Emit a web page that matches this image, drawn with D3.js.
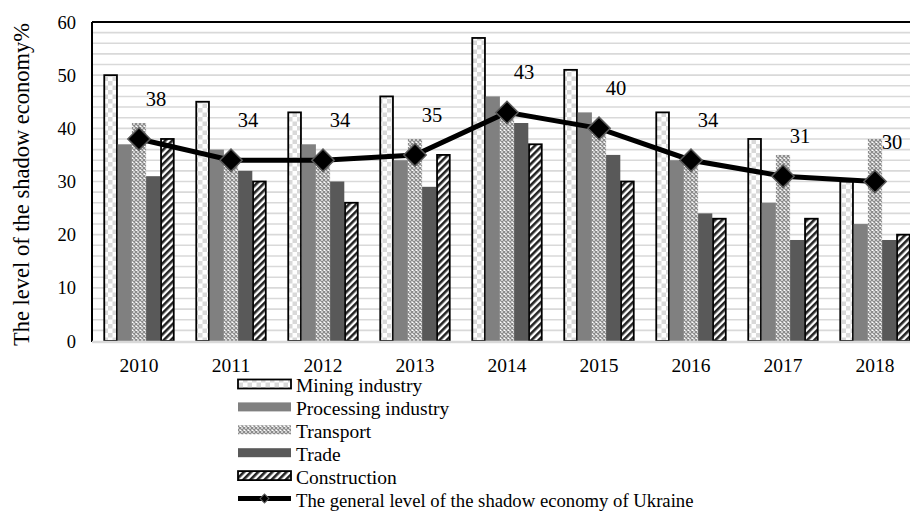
<!DOCTYPE html>
<html>
<head>
<meta charset="utf-8">
<script src="https://cdn.jsdelivr.net/npm/d3@7"></script>
<style>
  body { margin: 0; background: #fff; }
  svg { display: block; font-family: "Liberation Serif", "Times New Roman", serif; }
</style>
</head>
<body>
<svg id="svg" width="910" height="513"></svg>
<script>
// data
let years = ["2010", "2011", "2012", "2013", "2014", "2015", "2016", "2017", "2018"];
let seriesNames = ["Mining industry", "Processing industry", "Transport", "Trade", "Construction"];
let mining     = [50, 45, 43, 46, 57, 51, 43, 38, 30];
let processing = [37, 36, 37, 34, 46, 43, 34, 26, 22];
let transport  = [41, 33, 33, 38, 42, 39, 33, 35, 38];
let trade      = [31, 32, 30, 29, 41, 35, 24, 19, 19];
let construction = [38, 30, 26, 35, 37, 30, 23, 23, 20];
let general    = [38, 34, 34, 35, 43, 40, 34, 31, 30];
let lineName = "The general level of the shadow economy of Ukraine";
let yTicks = [0, 10, 20, 30, 40, 50, 60];

let seriesValues = [mining, processing, transport, trade, construction];
let fills = ["url(#checker)", "#808080", "url(#cross)", "#595959", "url(#stripes)"];
let strokes = ["#000", "none", "none", "none", "#000"];

let margin = { top: 22, left: 92, bottom: 341 };
let svg = d3.select("#svg");

// patterns
let defs = svg.append("defs");
let p1 = defs.append("pattern").attr("id", "checker").attr("patternUnits", "userSpaceOnUse")
    .attr("width", 9).attr("height", 9);
p1.append("rect").attr("width", 9).attr("height", 9).attr("fill", "#fff");
p1.append("rect").attr("x", 0).attr("y", 0).attr("width", 4.5).attr("height", 4.5).attr("fill", "#d9d9d9");
p1.append("rect").attr("x", 4.5).attr("y", 4.5).attr("width", 4.5).attr("height", 4.5).attr("fill", "#d9d9d9");

let p2 = defs.append("pattern").attr("id", "cross").attr("patternUnits", "userSpaceOnUse")
    .attr("width", 4).attr("height", 4);
p2.append("rect").attr("width", 4).attr("height", 4).attr("fill", "#fff");
p2.append("path").attr("d", "M0,0L4,4M4,0L0,4").attr("stroke", "#8c8c8c").attr("stroke-width", 1.3);

let p3 = defs.append("pattern").attr("id", "stripes").attr("patternUnits", "userSpaceOnUse")
    .attr("width", 5).attr("height", 5).attr("patternTransform", "rotate(45)");
p3.append("rect").attr("width", 5).attr("height", 5).attr("fill", "#fff");
p3.append("rect").attr("width", 2.6).attr("height", 5).attr("fill", "#222");

// scales
let xScale = d3.scaleBand().domain(years).range([93, 921]).paddingInner(0).paddingOuter(0);
let x1 = d3.scaleBand().domain(seriesNames).range([0, xScale.bandwidth()]).paddingInner(0).paddingOuter(0.74);
let yScale = d3.scaleLinear().domain([0, 60]).range([margin.bottom, margin.top]);

// gridlines every 2
svg.append("g").selectAll("line")
    .data(d3.range(2, 60, 2))
    .join("line")
    .attr("x1", margin.left).attr("x2", 910)
    .attr("y1", d => yScale(d)).attr("y2", d => yScale(d))
    .attr("stroke", "#d9d9d9").attr("stroke-width", 1.6);

// bars
let container = svg.append("g");
seriesNames.forEach((s, i) => {
    container.append("g").selectAll("rect")
        .data(years.map((y, j) => ({ year: y, value: seriesValues[i][j] })))
        .join("rect")
        .attr("x", d => xScale(d.year) + x1(s) + (strokes[i] !== "none" ? 0.75 : 0))
        .attr("y", d => yScale(d.value))
        .attr("width", x1.bandwidth() - (strokes[i] !== "none" ? 1.5 : 0))
        .attr("height", d => yScale(0) - yScale(d.value))
        .attr("fill", fills[i])
        .attr("stroke", strokes[i])
        .attr("stroke-width", 1.8);
});

// frame
svg.append("line").attr("x1", margin.left).attr("x2", margin.left)
    .attr("y1", margin.top).attr("y2", margin.bottom + 1).attr("stroke", "#000").attr("stroke-width", 2);
svg.append("line").attr("x1", margin.left).attr("x2", 910)
    .attr("y1", margin.top).attr("y2", margin.top).attr("stroke", "#000").attr("stroke-width", 2);
svg.append("line").attr("x1", margin.left).attr("x2", 910)
    .attr("y1", margin.bottom + 1).attr("y2", margin.bottom + 1).attr("stroke", "#d9d9d9").attr("stroke-width", 2.5);

// line + markers
let cx = d => xScale(d) + xScale.bandwidth() / 2;
let line = d3.line().x((d, j) => cx(years[j])).y(d => yScale(d));
svg.append("path").datum(general).attr("d", line)
    .attr("fill", "none").attr("stroke", "#000").attr("stroke-width", 5);

svg.append("g").selectAll("path")
    .data(general)
    .join("path")
    .attr("d", d3.symbol().type(d3.symbolSquare).size(250))
    .attr("transform", (d, j) => `translate(${cx(years[j])},${yScale(d)}) rotate(45)`)
    .attr("fill", "#000").attr("stroke", "#595959").attr("stroke-width", 1.5);

svg.append("g").selectAll("text")
    .data(general)
    .join("text")
    .attr("x", (d, j) => cx(years[j]) + 17)
    .attr("y", (d, j) => yScale(d) - 33)
    .attr("text-anchor", "middle")
    .attr("font-size", 20.5)
    .text(d => d);

// axes labels
svg.append("g").selectAll("text")
    .data(years)
    .join("text")
    .attr("x", d => cx(d))
    .attr("y", 372)
    .attr("text-anchor", "middle")
    .attr("font-size", 19.5)
    .text(d => d);

svg.append("g").selectAll("text")
    .data(yTicks)
    .join("text")
    .attr("x", 76)
    .attr("y", d => yScale(d) + 6.5)
    .attr("text-anchor", "end")
    .attr("font-size", 18.5)
    .text(d => d);

svg.append("text")
    .attr("transform", `translate(29, 184.5) rotate(-90)`)
    .attr("text-anchor", "middle")
    .attr("font-size", 22.5)
    .text("The level of the shadow economy%");

// legend
let legend = svg.append("g");
let rowY = d3.scalePoint().domain(d3.range(6)).range([384, 498.5]);
seriesNames.forEach((s, i) => {
    legend.append("rect")
        .attr("x", 238).attr("y", rowY(i) - 4.5)
        .attr("width", 53).attr("height", 9)
        .attr("fill", fills[i])
        .attr("stroke", strokes[i]).attr("stroke-width", 1.8);
    legend.append("text")
        .attr("x", 296).attr("y", rowY(i) + 8)
        .attr("font-size", 19.5)
        .text(s);
});
legend.append("line")
    .attr("x1", 238).attr("x2", 291)
    .attr("y1", rowY(5)).attr("y2", rowY(5))
    .attr("stroke", "#000").attr("stroke-width", 5);
legend.append("path")
    .attr("d", d3.symbol().type(d3.symbolSquare).size(40))
    .attr("transform", `translate(264.5,${rowY(5)}) rotate(45)`)
    .attr("fill", "#000").attr("stroke", "#595959").attr("stroke-width", 1);
legend.append("text")
    .attr("x", 296).attr("y", rowY(5) + 8)
    .attr("font-size", 18.7)
    .text(lineName);
</script>
</body>
</html>
